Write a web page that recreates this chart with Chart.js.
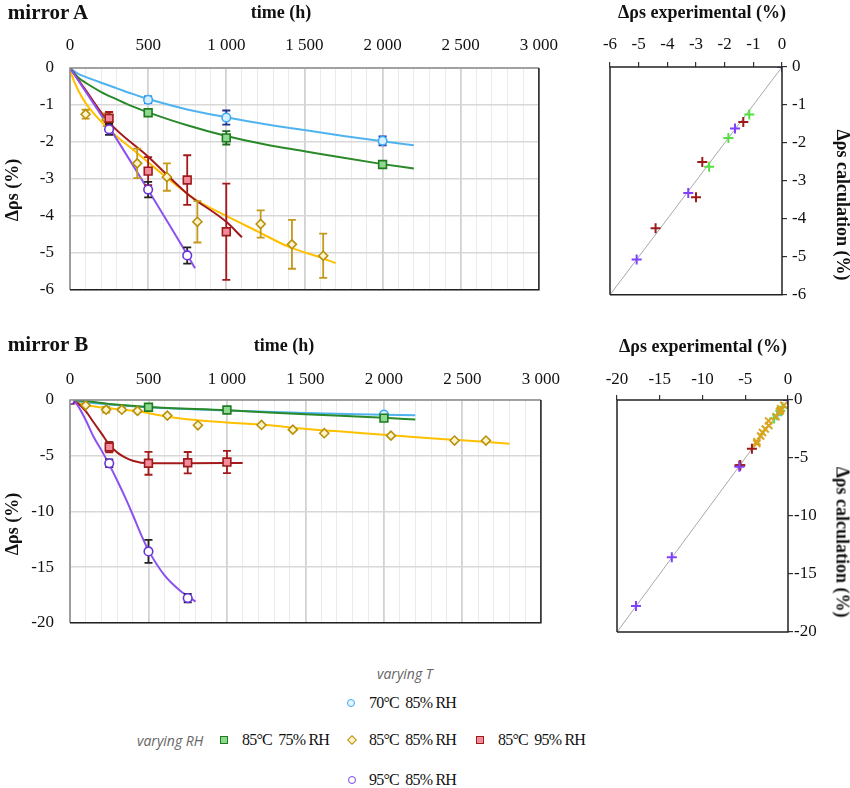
<!DOCTYPE html>
<html>
<head>
<meta charset="utf-8">
<script src="https://cdn.jsdelivr.net/npm/chart.js@4.4.1/dist/chart.umd.min.js"></script>
<style>
body { margin: 0; background: #fff; width: 850px; height: 788px; position: relative; overflow: hidden; font-family: "Liberation Serif", serif; }
canvas { position: absolute; }
.t { position: absolute; white-space: nowrap; font-weight: bold; color: #111; transform: translate(-50%, -50%); }
.up { transform: translate(-50%, -50%) rotate(-90deg); }
.down { transform: translate(-50%, -50%) rotate(90deg); }
.lg { position: absolute; white-space: pre; font-size: 16px; letter-spacing: -0.8px; color: #111; transform: translateY(-50%); }
.vy { position: absolute; white-space: nowrap; font-family: "Open Sans", sans-serif; font-style: italic; font-size: 14px; color: #666; transform: translateY(-50%); }
.mk { position: absolute; width: 6px; height: 6px; transform: translate(-50%, -50%); }
</style>
</head>
<body>
<canvas id="cA" width="570" height="316" style="left:0;top:0;width:570px;height:316px"></canvas>
<canvas id="cB" width="570" height="319" style="left:0;top:330px;width:570px;height:319px"></canvas>
<canvas id="cC" width="267" height="310" style="left:560px;top:0;width:267px;height:310px"></canvas>
<canvas id="cD" width="273" height="314" style="left:560px;top:330px;width:273px;height:314px"></canvas>

<div class="t" style="left:48px;top:12px;font-size:21px">mirror A</div>
<div class="t" style="left:281px;top:12px;font-size:18px">time (h)</div>
<div class="t up" style="left:12px;top:190px;font-size:18px">Δρs (%)</div>
<div class="t" style="left:48px;top:344px;font-size:21px">mirror B</div>
<div class="t" style="left:284px;top:345px;font-size:18px">time (h)</div>
<div class="t up" style="left:12px;top:524px;font-size:18px">Δρs (%)</div>
<div class="t" style="left:702px;top:12px;font-size:18px">Δρs experimental (%)</div>
<div class="t down" style="left:842px;top:205px;font-size:18px">Δρs calculation (%)</div>
<div class="t" style="left:703px;top:346px;font-size:18px">Δρs experimental (%)</div>
<div class="t down" style="left:842px;top:542px;font-size:18px">Δρs calculation (%)</div>

<div class="vy" style="left:377px;top:673px">varying T</div>
<div class="vy" style="left:137px;top:740px">varying RH</div>
<div class="mk" style="left:351px;top:703px;border:1.5px solid #3fa9f5;background:#e6f6ff;border-radius:50%"></div>
<div class="lg" style="left:369px;top:703px">70°C  85% RH</div>
<div class="mk" style="left:224px;top:740px;border:1.5px solid #1e7b1e;background:#8fd88f"></div>
<div class="lg" style="left:242px;top:740px">85°C  75% RH</div>
<div class="mk" style="left:352px;top:740px;width:5px;height:5px;border:1.5px solid #b8900a;background:#fff5cc;transform:translate(-50%,-50%) rotate(45deg)"></div>
<div class="lg" style="left:369px;top:740px">85°C  85% RH</div>
<div class="mk" style="left:480px;top:740px;border:1.5px solid #9e1b1b;background:#f28c9c"></div>
<div class="lg" style="left:498px;top:740px">85°C  95% RH</div>
<div class="mk" style="left:352px;top:780px;border:1.5px solid #7b45e0;background:#fff;border-radius:50%"></div>
<div class="lg" style="left:369px;top:780px">95°C  85% RH</div>

<script>
// measured points: [time (h), delta rho s (%), error bar half-height]
const a70 = [[500, -0.86, 0.09], [1000, -1.34, 0.19], [2000, -1.97, 0.12]];
const a75 = [[500, -1.21, 0.05], [1000, -1.89, 0.18], [2000, -2.61, 0.06]];
const a85 = [[100, -1.25, 0.12], [235, -1.40, 0.17], [430, -2.58, 0.40], [620, -2.95, 0.37],
             [815, -4.16, 0.56], [1220, -4.22, 0.37], [1420, -4.77, 0.66], [1620, -5.08, 0.60]];
const a95 = [[250, -1.36, 0.17], [500, -2.79, 0.38], [750, -3.03, 0.67], [1000, -4.43, 1.30]];
const a95T = [[250, -1.66, 0.15], [500, -3.29, 0.21], [750, -5.07, 0.22]];

// model curves: [time (h), delta rho s (%)]
const a70Fit = [[0, 0], [50, -0.15], [100, -0.24], [200, -0.40], [300, -0.55], [400, -0.70], [500, -0.84],
                [750, -1.12], [1000, -1.33], [1250, -1.52], [1500, -1.68], [1750, -1.84], [2000, -1.98], [2200, -2.09]];
const a75Fit = [[0, 0], [50, -0.25], [100, -0.40], [200, -0.65], [300, -0.85], [400, -1.04], [500, -1.20],
                [750, -1.55], [1000, -1.84], [1250, -2.07], [1500, -2.25], [1750, -2.43], [2000, -2.60], [2200, -2.72]];
const a85Fit = [[0, -0.05], [25, -0.35], [50, -0.58], [100, -0.95], [150, -1.22], [200, -1.45], [300, -1.85],
                [400, -2.20], [500, -2.55], [600, -2.90], [800, -3.55], [1000, -4.00], [1200, -4.42], [1400, -4.84],
                [1600, -5.12], [1700, -5.28]];
const a95Fit = [[0, 0], [100, -0.60], [250, -1.47], [500, -2.40], [750, -3.40], [1000, -4.16], [1100, -4.58]];
const a95TFit = [[0, 0], [250, -1.60], [500, -3.30], [750, -5.05], [800, -5.42]];

const b70 = [[2000, -1.30, 0]];
const b75 = [[500, -0.65, 0], [1000, -0.90, 0], [2000, -1.63, 0]];
const b85 = [[100, -0.48, 0], [230, -0.87, 0.25], [330, -0.87, 0.15], [430, -0.98, 0], [620, -1.40, 0],
             [815, -2.27, 0], [1220, -2.24, 0], [1420, -2.66, 0], [1620, -2.98, 0], [2045, -3.20, 0],
             [2450, -3.64, 0], [2650, -3.64, 0]];
const b95 = [[0, 0, 0], [250, -4.22, 0.47], [500, -5.68, 1.03], [750, -5.63, 0.96], [1000, -5.57, 1.00]];
const b95T = [[0, 0, 0], [250, -5.68, 0.35], [500, -13.59, 1.03], [750, -17.78, 0.38]];

const b70Fit = [[0, 0], [100, -0.20], [250, -0.40], [500, -0.65], [1000, -0.95], [1500, -1.17], [2000, -1.32], [2200, -1.38]];
const b75Fit = [[0, 0], [100, -0.10], [250, -0.35], [500, -0.62], [1000, -0.92], [1500, -1.28], [2000, -1.60], [2200, -1.76]];
const b85Fit = [[0, 0], [100, -0.45], [250, -0.75], [450, -1.05], [600, -1.45], [800, -1.80], [1000, -2.02],
                [1250, -2.25], [1500, -2.60], [1750, -2.85], [2000, -3.12], [2250, -3.38], [2500, -3.62], [2800, -3.92]];
const b95Fit = [[0, 0], [50, -0.30], [100, -1.00], [150, -2.00], [200, -3.00], [250, -4.00], [300, -4.70],
                [350, -5.15], [400, -5.45], [500, -5.68], [750, -5.68], [1100, -5.65]];
const b95TFit = [[0, 0], [25, -0.10], [50, -0.50], [100, -1.80], [150, -3.30], [200, -4.50], [250, -5.80],
                 [300, -7.20], [350, -8.70], [400, -10.30], [450, -12.00], [500, -13.50], [600, -15.70],
                 [700, -17.10], [750, -17.60], [800, -18.10]];

// experimental vs calculated: [experimental, calculation]
const cA75 = [[-1.14, -1.25], [-1.87, -1.87], [-2.54, -2.63]];
const cA95 = [[-1.35, -1.45], [-2.78, -2.50], [-3.00, -3.43], [-4.41, -4.25]];
const cA95T = [[0, 0], [-1.64, -1.62], [-3.27, -3.32], [-5.07, -5.07]];

const cB70 = [[-1.27, -1.32]];
const cB75 = [[-0.65, -0.62], [-0.90, -0.92], [-1.63, -1.60]];
const cB85 = [[-0.48, -0.45], [-0.87, -0.75], [-0.87, -0.88], [-0.98, -1.00], [-1.40, -1.45], [-2.27, -1.80],
              [-2.24, -2.20], [-2.66, -2.50], [-2.98, -2.80], [-3.20, -3.10], [-3.64, -3.60], [-3.64, -3.75]];
const cB95 = [[-4.22, -4.20], [-5.68, -5.65], [-5.63, -5.65], [-5.57, -5.62]];
const cB95T = [[0, 0], [-5.68, -5.75], [-13.59, -13.55], [-17.78, -17.75]];

const timeTicks = [0, 500, 1000, 1500, 2000, 2500, 3000];

const xy = arr => arr.map(p => ({ x: p[0], y: p[1] }));

const FONT = { family: '"Liberation Serif", serif', size: 17 };

// error bars drawn under each marker set
const errorBars = {
    id: 'errorBars',
    beforeDatasetDraw(chart, args) {
        const ds = chart.data.datasets[args.index];
        if (!ds.errors) return;
        const ctx = chart.ctx;
        const ys = chart.scales.y;
        ctx.save();
        ctx.strokeStyle = ds.errColor;
        ctx.lineWidth = 1.8;
        args.meta.data.forEach((pt, i) => {
            const e = ds.errors[i];
            if (!e) return;
            const v = ds.data[i].y;
            const top = ys.getPixelForValue(v + e);
            const bot = ys.getPixelForValue(v - e);
            ctx.beginPath();
            ctx.moveTo(pt.x, top); ctx.lineTo(pt.x, bot);
            ctx.moveTo(pt.x - 4, top); ctx.lineTo(pt.x + 4, top);
            ctx.moveTo(pt.x - 4, bot); ctx.lineTo(pt.x + 4, bot);
            ctx.stroke();
        });
        ctx.restore();
    }
};

// plot frame
const frame = {
    id: 'frame',
    afterDraw(chart, args, opts) {
        const { left, right, top, bottom } = chart.chartArea;
        const ctx = chart.ctx;
        ctx.save();
        ctx.lineWidth = 1.5;
        ctx.strokeStyle = opts.tl;
        ctx.beginPath();
        ctx.moveTo(left, bottom); ctx.lineTo(left, top); ctx.lineTo(right, top);
        ctx.stroke();
        ctx.strokeStyle = opts.br;
        ctx.beginPath();
        ctx.moveTo(right, top); ctx.lineTo(right, bottom); ctx.lineTo(left, bottom);
        ctx.stroke();
        ctx.restore();
    }
};

function markers(arr, style, radius, border, fill, errColor) {
    return {
        type: 'line', data: xy(arr), showLine: false,
        errors: arr.map(p => p[2]), errColor: errColor,
        pointStyle: style, pointRadius: radius, pointBorderWidth: 1.6,
        pointBorderColor: border, pointBackgroundColor: fill
    };
}

function curve(arr, color) {
    return {
        type: 'line', data: xy(arr), borderColor: color, borderWidth: 2,
        pointRadius: 0, cubicInterpolationMode: 'monotone', fill: false
    };
}

function fmtTime(v) {
    if (!timeTicks.includes(v)) return '';
    return v >= 1000 ? Math.floor(v / 1000) + ' ' + String(v % 1000).padStart(3, '0') : String(v);
}

function timeChart(id, yMin, yStep, top, datasets) {
    return new Chart(document.getElementById(id), {
        type: 'line',
        data: { datasets: datasets },
        plugins: [errorBars, frame],
        options: {
            responsive: false, animation: false,
            layout: { padding: { left: 0, top: 0, right: 25, bottom: 12 } },
            plugins: { legend: { display: false }, tooltip: { enabled: false }, frame: { tl: '#8c8c8c', br: '#222' } },
            scales: {
                x: {
                    type: 'linear', position: 'top', min: 0, max: 3000,
                    afterFit: s => { s.height = top; },
                    ticks: { stepSize: 100, maxTicksLimit: 100, autoSkip: false, maxRotation: 0, minRotation: 0,
                             padding: top === 68 ? 12 : 10, color: '#111', font: FONT, callback: v => fmtTime(v) },
                    grid: {
                        drawTicks: false,
                        color: c => (c.tick && timeTicks.includes(c.tick.value)) ? '#d2d2d2' : '#ebebeb',
                        lineWidth: c => (c.tick && timeTicks.includes(c.tick.value)) ? 1.8 : 1
                    },
                    border: { display: false }
                },
                y: {
                    type: 'linear', min: yMin, max: 0,
                    afterFit: s => { s.width = 70; },
                    ticks: { stepSize: yStep, padding: 16, color: '#111', font: FONT, callback: v => String(v) },
                    grid: { drawTicks: false, color: '#d8d8d8', lineWidth: 1.6 },
                    border: { display: false }
                }
            }
        }
    });
}

timeChart('cA', -6, 1, 68, [
    markers(a95T, 'circle', 4.3, '#6a35d8', '#ffffff', '#222222'),
    markers(a95, 'rect', 5.5, '#9e1b1b', '#f28c9c', '#a31a1a'),
    markers(a75, 'rect', 5.5, '#1e7b1e', '#8fd88f', '#1e6b1e'),
    markers(a70, 'circle', 4.3, '#3fa9f5', '#d6f0ff', '#1f2f8f'),
    markers(a85, 'rectRot', 4.5, '#b8900a', '#fff5cc', '#c39a1c'),
    curve(a95TFit, '#8c52f0'),
    curve(a95Fit, '#a31a1a'),
    curve(a75Fit, '#2a8a2a'),
    curve(a70Fit, '#4fb3f0'),
    curve(a85Fit, '#ffc000')
]);

timeChart('cB', -20, 5, 70, [
    markers(b95T, 'circle', 4.3, '#6a35d8', '#ffffff', '#222222'),
    markers(b95, 'rect', 5.5, '#9e1b1b', '#f28c9c', '#a31a1a'),
    markers(b75, 'rect', 5.5, '#1e7b1e', '#8fd88f', '#1e6b1e'),
    markers(b70, 'circle', 4.3, '#3fa9f5', '#d6f0ff', '#1f2f8f'),
    markers(b85, 'rectRot', 4.5, '#b8900a', '#fff5cc', '#c39a1c'),
    curve(b95TFit, '#8c52f0'),
    curve(b95Fit, '#a31a1a'),
    curve(b75Fit, '#2a8a2a'),
    curve(b70Fit, '#4fb3f0'),
    curve(b85Fit, '#ffc000')
]);

function cross(arr, color, style) {
    return {
        type: 'line', data: xy(arr), showLine: false,
        pointStyle: style || 'cross', pointRadius: 5, pointBorderWidth: 2,
        pointBorderColor: color, pointBackgroundColor: color
    };
}

function parityChart(id, lo, step, top, xPad, yPad, datasets) {
    const axis = pad => ({
        ticks: { stepSize: step, padding: pad, color: '#111', font: FONT, callback: v => String(v) },
        grid: { drawOnChartArea: false, drawTicks: true, tickLength: 5, color: '#333', lineWidth: 1.2 },
        border: { display: false }
    });
    const x = axis(xPad);
    const y = axis(yPad);
    Object.assign(x, { type: 'linear', position: 'top', min: lo, max: 0, afterFit: s => { s.height = top; } });
    Object.assign(y, { type: 'linear', position: 'right', min: lo, max: 0, afterFit: s => { s.width = 40; } });
    datasets.push({
        type: 'line', data: [{ x: lo, y: lo }, { x: 0, y: 0 }],
        borderColor: '#a8a8a8', borderWidth: 1, pointRadius: 0
    });
    return new Chart(document.getElementById(id), {
        type: 'line',
        data: { datasets: datasets },
        plugins: [frame],
        options: {
            responsive: false, animation: false,
            layout: { padding: { left: id === 'cC' ? 50 : 57, top: 0, right: 5, bottom: 12 } },
            plugins: { legend: { display: false }, tooltip: { enabled: false }, frame: { tl: '#222', br: '#222' } },
            scales: { x: x, y: y }
        }
    });
}

parityChart('cC', -6, 1, 67, 7, 5, [
    cross(cA95T, '#8040ff'),
    cross(cA95, '#9b1b1b'),
    cross(cA75, '#55e040')
]);

parityChart('cD', -20, 5, 70, 5, 1, [
    cross(cB95T, '#8040ff'),
    cross(cB95, '#9b1b1b'),
    cross(cB85, '#d9a520', 'crossRot'),
    cross(cB75, '#55e040'),
    cross(cB70, '#5bc8f5')
]);
</script>
</body>
</html>
